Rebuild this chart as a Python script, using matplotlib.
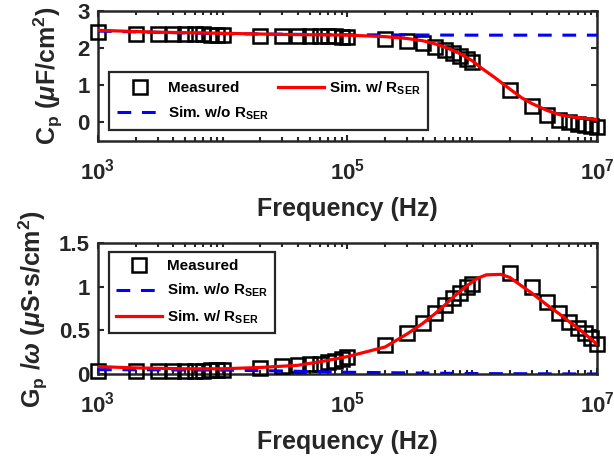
import numpy as np
import matplotlib
matplotlib.use("Agg")
import matplotlib.pyplot as plt
from matplotlib.ticker import FixedLocator, LogLocator, FuncFormatter, NullFormatter

plt.rcParams['font.family'] = ['Liberation Sans', 'DejaVu Sans']
plt.rcParams['font.weight'] = 'bold'
plt.rcParams['axes.labelweight'] = 'bold'
plt.rcParams['mathtext.fontset'] = 'custom'
plt.rcParams['mathtext.rm'] = 'Liberation Sans:bold'
plt.rcParams['mathtext.bf'] = 'Liberation Sans:bold'
plt.rcParams['mathtext.it'] = 'Liberation Sans:italic:bold'
plt.rcParams['mathtext.sf'] = 'Liberation Sans:bold'

# measured frequencies (Hz)
freq_meas = [1e3, 2e3, 3e3, 4e3, 5e3, 6e3, 7e3, 8e3, 9e3,
             1e4, 2e4, 3e4, 4e4, 5e4, 6e4, 7e4, 8e4, 9e4,
             1e5, 2e5, 3e5, 4e5, 5e5, 6e5, 7e5, 8e5, 9e5,
             1e6, 2e6, 3e6, 4e6, 5e6, 6e6, 7e6, 8e6, 9e6, 1e7]

# Cp (uF/cm^2)
cp_meas = [2.43, 2.39, 2.38, 2.38, 2.37, 2.37, 2.37, 2.36, 2.36,
           2.36, 2.34, 2.33, 2.33, 2.33, 2.32, 2.32, 2.32, 2.31,
           2.31, 2.25, 2.20, 2.13, 2.04, 1.96, 1.87, 1.80, 1.72,
           1.63, 0.86, 0.44, 0.20, 0.07, 0.01, -0.03, -0.07, -0.10, -0.13]

freq_cp_ser = [1e3, 3e3, 1e4, 3e4, 1e5, 2e5, 3e5, 4e5, 5e5, 6e5, 7e5, 8e5,
               1e6, 1.2e6, 1.5e6, 2e6, 2.5e6, 3e6, 4e6, 5e6, 6e6, 8e6, 1e7]
cp_ser = [2.48, 2.43, 2.40, 2.37, 2.35, 2.31, 2.26, 2.20, 2.12, 2.03, 1.94, 1.85,
          1.66, 1.45, 1.22, 0.90, 0.66, 0.51, 0.32, 0.21, 0.16, 0.11, 0.08]

freq_cp_noser = [1e3, 1e4, 1e5, 1e6, 1e7]
cp_noser = [2.46, 2.39, 2.36, 2.35, 2.35]

# Gp/w (uS.s/cm^2)
gp_meas = [0.03, 0.03, 0.03, 0.035, 0.04, 0.04, 0.04, 0.045, 0.045,
           0.05, 0.07, 0.09, 0.10, 0.11, 0.12, 0.135, 0.15, 0.17,
           0.19, 0.33, 0.47, 0.59, 0.70, 0.79, 0.87, 0.93, 1.00,
           1.04, 1.16, 1.00, 0.83, 0.70, 0.60, 0.53, 0.47, 0.41, 0.35]

freq_gp_ser = [1e3, 2e3, 5e3, 1e4, 2e4, 4e4, 6e4, 1e5, 2e5, 3e5, 4e5, 5e5, 6e5,
               7e5, 8e5, 9e5, 1.1e6, 1.3e6, 1.7e6, 2e6, 2.5e6, 3e6, 4e6, 5e6,
               6e6, 7e6, 8e6, 9e6, 1e7]
gp_ser = [0.085, 0.07, 0.06, 0.06, 0.075, 0.10, 0.14, 0.20, 0.31, 0.46, 0.58, 0.69, 0.79,
          0.88, 0.95, 1.01, 1.10, 1.14, 1.145, 1.11, 1.01, 0.93, 0.79, 0.69,
          0.60, 0.53, 0.46, 0.40, 0.34]

freq_gp_noser = [1e3, 1e4, 3e4, 1e5, 1e6, 1e7]
gp_noser = [0.05, 0.045, 0.035, 0.02, 0.005, 0.0]

xticks = [1e3, 1e5, 1e7]
grey = '#262626'

fig = plt.figure(figsize=(6.14, 4.59), dpi=100)
ax1 = fig.add_axes([0.1596, 0.6928, 0.8127, 0.2832])
ax2 = fig.add_axes([0.1596, 0.1852, 0.8127, 0.2843])


def style(ax):
    ax.set_xscale('log')
    ax.set_xlim(1e3, 1e7)
    ax.xaxis.set_major_locator(FixedLocator(xticks))
    ax.xaxis.set_major_formatter(FuncFormatter(lambda v, p: r'$\mathregular{10^{%d}}$' % round(np.log10(v))))
    ax.xaxis.set_minor_locator(LogLocator(base=10, subs=np.arange(1, 10), numticks=50))
    ax.xaxis.set_minor_formatter(NullFormatter())
    ax.tick_params(which='both', direction='in', top=True, right=True, colors=grey,
                   labelsize=16, width=1.5)
    ax.tick_params(which='major', length=4.5)
    ax.tick_params(which='minor', length=2.8)
    ax.tick_params(axis='x', pad=13)
    ax.tick_params(axis='y', pad=6)
    for s in ax.spines.values():
        s.set_linewidth(1.8)
        s.set_color(grey)
    ax.set_xlabel('Frequency (Hz)', fontsize=18, fontweight='bold', color=grey, labelpad=9)


def draw(ax, gm, fb, yb, fr, yr):
    h1, = ax.plot(freq_meas, gm, 's', ms=10, mfc='none', mec='black', mew=1.8,
                  clip_on=False, zorder=3, label='Measured')
    h2, = ax.plot(fb, yb, color='#0000ff', lw=2.2, dashes=(4.5, 3.5), zorder=4,
                  label=r'Sim. w/o R$_\mathregular{SER}$')
    h3, = ax.plot(fr, yr, color='#ff0000', lw=2.3, zorder=5,
                  label=r'Sim. w/ R$_\mathregular{SER}$')
    return [h1, h2, h3]


hs = draw(ax1, cp_meas, freq_cp_noser, cp_noser, freq_cp_ser, cp_ser)
style(ax1)
ax1.set_ylim(-0.5, 3)
ax1.set_yticks([0, 1, 2, 3])
ax1.set_ylabel(r'C$_\mathregular{p}$ ($\mu$F/cm$^\mathregular{2}$)', fontsize=18,
               fontweight='bold', color=grey, labelpad=9)
leg1 = ax1.legend(handles=hs, ncol=2, loc='upper left', bbox_to_anchor=(0.022, 0.533),
                  borderaxespad=0, fontsize=11, handlelength=3.0, handletextpad=0.35,
                  columnspacing=0.6, borderpad=0.5, labelspacing=0.6, fancybox=False,
                  framealpha=1, edgecolor=grey)
leg1.get_frame().set_linewidth(1.6)
leg1.set_zorder(10)

hs = draw(ax2, gp_meas, freq_gp_noser, gp_noser, freq_gp_ser, gp_ser)
style(ax2)
ax2.set_ylim(0, 1.5)
ax2.set_yticks([0, 0.5, 1, 1.5])
ax2.set_yticklabels(['0', '0.5', '1', '1.5'])
ax2.set_ylabel(r'G$_\mathregular{p}$ /$\omega$ ($\mu$S·s/cm$^\mathregular{2}$)', fontsize=18,
               fontweight='bold', color=grey, labelpad=6)
leg2 = ax2.legend(handles=hs, loc='upper left', bbox_to_anchor=(0.022, 0.935),
                  borderaxespad=0, fontsize=11, handlelength=3.0, handletextpad=0.35,
                  borderpad=0.45, labelspacing=0.6, fancybox=False,
                  framealpha=1, edgecolor=grey)
leg2.get_frame().set_linewidth(1.6)
leg2.set_zorder(10)

fig.savefig('out.png', dpi=100)
